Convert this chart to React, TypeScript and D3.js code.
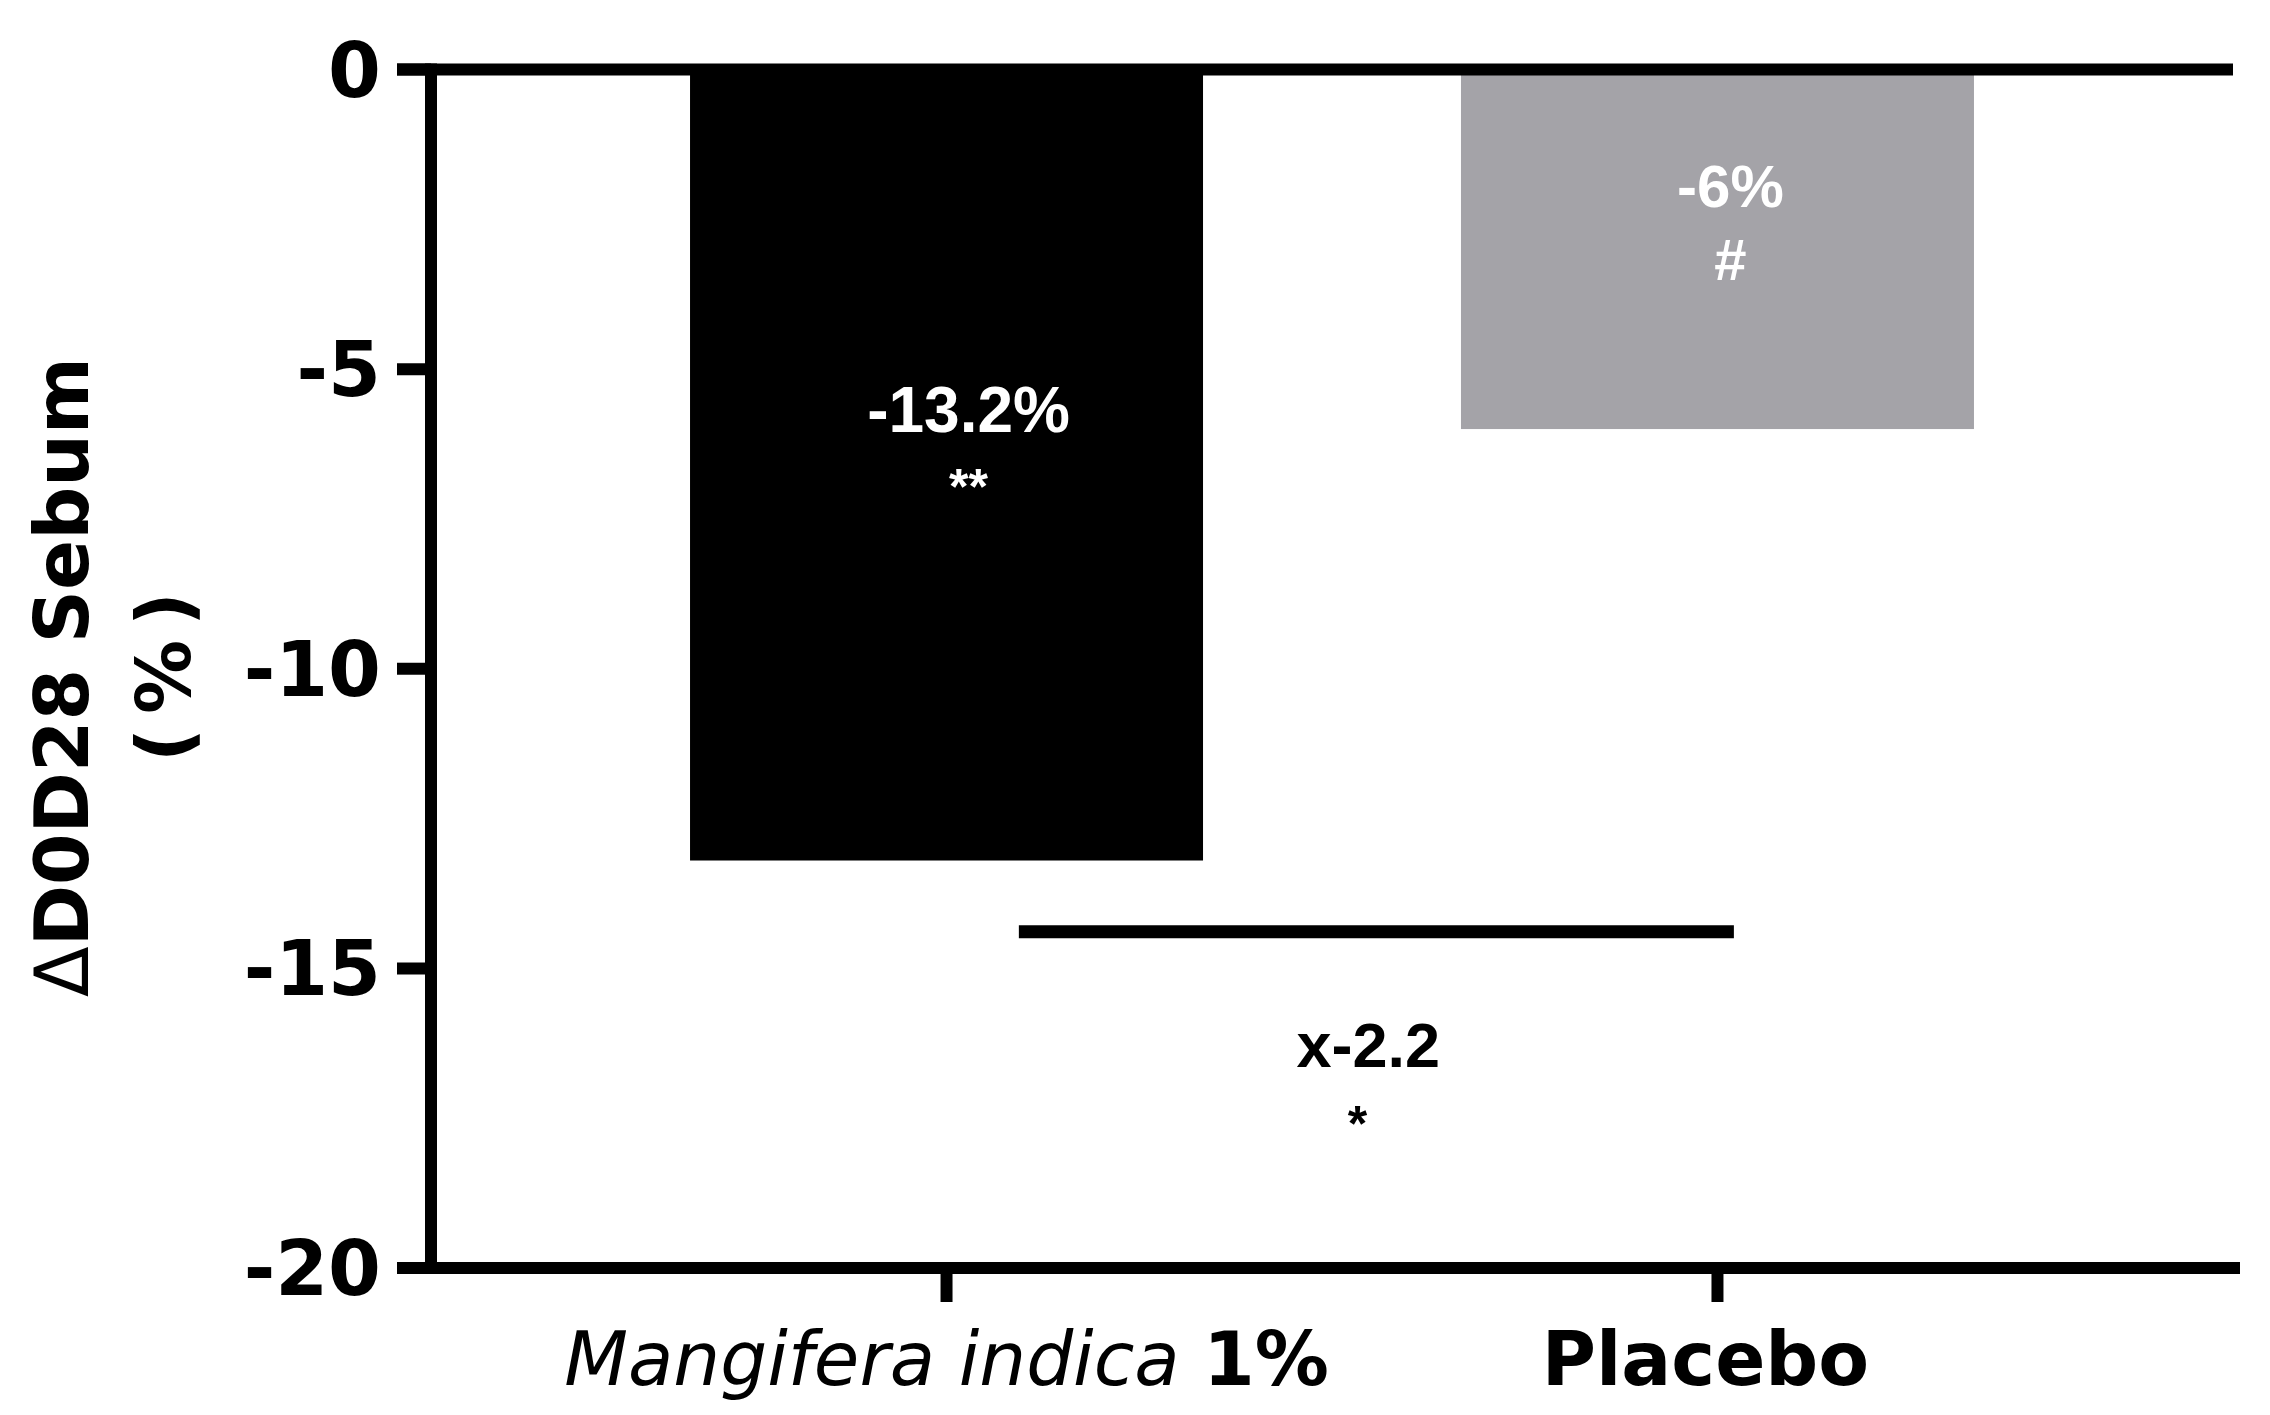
import React from "react";
import * as d3 from "d3";

// ---- data ----
const categories = ["Mangifera indica 1%", "Placebo"];
const categoryItalic = ["Mangifera indica", ""];
const categoryBold = ["1%", "Placebo"];
const values = [-13.2, -6];
const valueLabels = ["-13.2%", "-6%"];
const sigLabels = ["**", "#"];
const yTicks = [0, -5, -10, -15, -20];
const yDomain = [-20, 0];
const comparisonLabel = "x-2.2";
const comparisonSig = "*";
const yTitle = ["D0D28 Sebum", "(%)"];

// ---- style / layout ----
const W = 2270;
const H = 1415;
const AX = 431; // y-axis x
const YTOP = 69.5;
const YBOT = 1268;
const XRIGHT = 2233;
const AXW = 12;
const barColors = ["#000000", "#a4a3a8"];
const labelFont = "'Liberation Sans', Arial, sans-serif";
const axisFont = "'DejaVu Sans', Verdana, sans-serif";
// annotation anchors (in data units / pixel offsets)
const valueLabelAt = [-6.05, -2.29];
const sigLabelAt = [-7.25, -3.51];
const labelDx = [22, 13];
const catLabelDx = [0, -12];

export default function App() {
  const y = d3.scaleLinear().domain(yDomain).range([YBOT, YTOP]);
  const x = d3
    .scaleBand<string>()
    .domain(categories)
    .range([AX, XRIGHT])
    .paddingInner(0.3346)
    .paddingOuter(0.336);
  const bw = x.bandwidth();
  const cx = (c: string) => (x(c) as number) + bw / 2;

  const cmpX1 = (x(categories[0]) as number) + bw * 0.641;
  const cmpX2 = (x(categories[1]) as number) + bw * 0.532;
  const cmpY = y(-14.39);

  return (
    <svg
      width={W}
      height={H}
      style={{ position: "absolute", left: 0, top: 0, background: "#fff" }}
    >
      <rect x={0} y={0} width={W} height={H} fill="#fff" />
      {/* bars */}
      {categories.map((c, i) => (
        <rect
          key={c}
          x={x(c)}
          y={y(0)}
          width={bw}
          height={y(values[i]) - y(0)}
          fill={barColors[i]}
        />
      ))}
      {/* value labels */}
      {categories.map((c, i) => (
        <g key={"lab" + c} fill="#fff" fontFamily={labelFont} fontWeight="bold" textAnchor="middle">
          <text x={cx(c) + labelDx[i]} y={y(valueLabelAt[i])} fontSize={i === 0 ? 64 : 60}>
            {valueLabels[i]}
          </text>
          <text x={cx(c) + labelDx[i]} y={y(sigLabelAt[i])} fontSize={i === 0 ? 50 : 58}>
            {sigLabels[i]}
          </text>
        </g>
      ))}
      {/* comparison line */}
      <line x1={cmpX1} x2={cmpX2} y1={cmpY} y2={cmpY} stroke="#000" strokeWidth={13} />
      <text
        x={(cmpX1 + cmpX2) / 2 - 8}
        y={y(-16.65)}
        fontFamily={labelFont}
        fontWeight="bold"
        fontSize={63}
        textAnchor="middle"
        fill="#000"
      >
        {comparisonLabel}
      </text>
      <text
        x={(cmpX1 + cmpX2) / 2 - 19}
        y={y(-17.88)}
        fontFamily={labelFont}
        fontWeight="bold"
        fontSize={50}
        textAnchor="middle"
        fill="#000"
      >
        {comparisonSig}
      </text>

      {/* top zero line */}
      <line x1={AX - 34} x2={XRIGHT} y1={y(0)} y2={y(0)} stroke="#000" strokeWidth={AXW} />
      {/* bottom axis */}
      <line x1={AX - 34} x2={XRIGHT + 7} y1={YBOT} y2={YBOT} stroke="#000" strokeWidth={AXW} />
      {/* y axis */}
      <line x1={AX} x2={AX} y1={YTOP - 6} y2={YBOT + 6} stroke="#000" strokeWidth={AXW} />
      {yTicks.map((t) => (
        <g key={"yt" + t}>
          <line x1={AX - 34} x2={AX} y1={y(t)} y2={y(t)} stroke="#000" strokeWidth={AXW} />
          <text
            x={381}
            y={y(t) + 27}
            textAnchor="end"
            fontFamily={axisFont}
            fontWeight="bold"
            fontSize={76}
            fill="#000"
          >
            {t}
          </text>
        </g>
      ))}
      {/* x ticks and labels */}
      {categories.map((c, i) => (
        <g key={"xt" + c}>
          <line x1={cx(c)} x2={cx(c)} y1={YBOT} y2={YBOT + 34} stroke="#000" strokeWidth={12} />
          <text
            x={cx(c) + catLabelDx[i]}
            y={1385}
            textAnchor="middle"
            fontFamily={axisFont}
            fontSize={74}
            fill="#000"
          >
            {categoryItalic[i] ? (
              <tspan fontStyle="italic" fontWeight="normal">
                {categoryItalic[i] + " "}
              </tspan>
            ) : null}
            <tspan fontWeight="bold">{categoryBold[i]}</tspan>
          </text>
        </g>
      ))}
      {/* y title */}
      <text
        transform={`translate(88, 677) rotate(-90)`}
        textAnchor="middle"
        fontFamily={axisFont}
        fontWeight="bold"
        fontSize={74}
        fill="#000"
      >
        <tspan fontWeight="normal">Δ</tspan>
        {yTitle[0]}
      </text>
      <text
        transform={`translate(190, 670) rotate(-90)`}
        textAnchor="middle"
        fontFamily={axisFont}
        fontWeight="bold"
        fontSize={74}
        letterSpacing={14}
        fill="#000"
      >
        {yTitle[1]}
      </text>
    </svg>
  );
}
